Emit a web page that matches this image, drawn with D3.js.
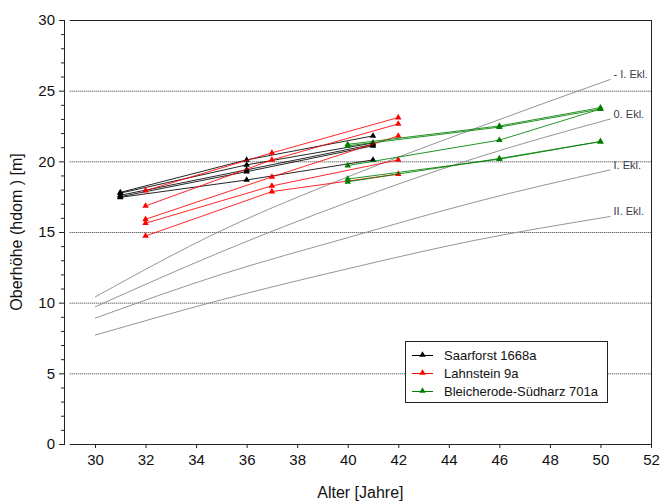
<!DOCTYPE html>
<html>
<head>
<meta charset="utf-8">
<script src="https://cdn.jsdelivr.net/npm/d3@7/dist/d3.min.js"></script>
<style>
  html, body { margin: 0; padding: 0; background: #fff; }
  svg { display: block; font-family: "Liberation Sans", Arial, sans-serif; }
</style>
</head>
<body>
<svg id="chart" width="661" height="503"></svg>
<script>
// Yield-class reference curves (Ertragsklassen): ages and heights
const classAges = [30, 35, 40, 45, 50.4];
const classNames = ["- I. Ekl.", "0. Ekl.", "I. Ekl.", "II. Ekl."];
const classMinusI = [10.4, 15.1, 18.9, 22.3, 25.8];
const classZero   = [9.7, 13.6, 17.1, 20.2, 23.0];
const classI      = [8.9, 12.0, 14.6, 17.1, 19.4];
const classII     = [7.7, 10.2, 12.4, 14.4, 16.1];

// Saarforst 1668a: plots measured at ages 31, 36, 41
const saarAges = [31, 36, 41];
const saarPlots = [
  [17.8, 20.1, 21.8],
  [17.75, 19.75, 21.3],
  [17.6, 19.4, 21.2],
  [17.5, 19.27, 21.1],
  [17.45, 18.68, 20.1]
];

// Lahnstein 9a: plots measured at ages 32, 37, 42
const lahnAges = [32, 37, 42];
const lahnPlots = [
  [17.93, 20.6, 23.1],
  [16.84, 20.1, 22.65],
  [15.9, 18.9, 21.8],
  [15.62, 18.26, 20.1],
  [14.72, 17.86, 19.1]
];

// Bleicherode-Südharz 701a: plots measured at ages 40, 46, 50
const bleiAges = [40, 46, 50];
const bleiPlots = [
  [21.2, 22.5, 23.8],
  [21.1, 22.42, 23.7],
  [19.7, 21.5, 23.7],
  [18.75, 20.15, 21.4],
  [18.55, 20.2, 21.4]
];

const seriesNames = ["Saarforst 1668a", "Lahnstein 9a", "Bleicherode-Südharz 701a"];
const seriesColors = ["#000000", "#ff0000", "#008000"];

const xTicks = [30, 32, 34, 36, 38, 40, 42, 44, 46, 48, 50, 52];
const yTicks = [0, 5, 10, 15, 20, 25, 30];
const gridValues = [5, 10, 15, 20, 25];

const svg = d3.select("#chart");

const x = d3.scaleLinear().domain([30, 52]).range([95, 651]);
const y = d3.scaleLinear().domain([0, 30]).range([444, 20]);
const xMin = 29;
const yAxisX = 64;

// dotted horizontal grid
svg.append("g").selectAll("line").data(gridValues).join("line")
  .attr("x1", x(xMin)).attr("x2", x(52))
  .attr("y1", d => y(d) + 0.5).attr("y2", d => y(d) + 0.5)
  .attr("stroke", "#333").attr("stroke-width", 1)
  .attr("stroke-dasharray", "1,1");

// reference curves (smooth)
const line = d3.line().x(d => x(d[0])).y(d => y(d[1]));
const smooth = d3.line().x(d => x(d[0])).y(d => y(d[1])).curve(d3.curveMonotoneX);
const classCurves = [classMinusI, classZero, classI, classII];
const gCurves = svg.append("g");
classCurves.forEach((vals, i) => {
  const pts = classAges.map((a, j) => [a, vals[j]]);
  gCurves.append("path").attr("d", smooth(pts))
    .attr("fill", "none").attr("stroke", "#959595").attr("stroke-width", 1);
  const end = pts[pts.length - 1];
  gCurves.append("text")
    .attr("x", x(end[0]) + 3).attr("y", y(end[1]) - 1)
    .attr("font-size", 11).attr("fill", "#3a3a4a")
    .text(classNames[i]);
});

// measured plots
const tri = d3.symbol().type(d3.symbolTriangle).size(18);
function drawSeries(ages, plots, color) {
  const g = svg.append("g");
  plots.forEach(vals => {
    const pts = ages.map((a, j) => [a, vals[j]]);
    g.append("path").attr("d", line(pts))
      .attr("fill", "none").attr("stroke", color).attr("stroke-width", 1)
      .attr("stroke-opacity", 0.85);
    g.selectAll(null).data(pts).join("path")
      .attr("d", tri)
      .attr("transform", d => `translate(${x(d[0])},${y(d[1])})`)
      .attr("fill", color);
  });
}
drawSeries(saarAges, saarPlots, seriesColors[0]);
drawSeries(lahnAges, lahnPlots, seriesColors[1]);
drawSeries(bleiAges, bleiPlots, seriesColors[2]);

// frame: top and right edges
svg.append("line").attr("x1", x(xMin)).attr("x2", x(52) + 0.5)
  .attr("y1", y(30) + 0.5).attr("y2", y(30) + 0.5).attr("stroke", "#222");
svg.append("line").attr("x1", x(52) + 0.5).attr("x2", x(52) + 0.5)
  .attr("y1", y(30)).attr("y2", y(0)).attr("stroke", "#222");

// bottom axis
const xAxis = d3.axisBottom(x).tickValues(xTicks).tickSize(4).tickPadding(6)
  .tickFormat(d3.format("d"));
const gx = svg.append("g").attr("transform", `translate(0,${y(0)})`).call(xAxis);
gx.select(".domain").remove();
gx.append("line").attr("x1", x(xMin)).attr("x2", x(52) + 1)
  .attr("y1", 0.5).attr("y2", 0.5).attr("stroke", "#222");
gx.selectAll(".tick line").attr("stroke", "#222");
gx.selectAll(".tick text").attr("font-size", 15).attr("fill", "#111")
  .attr("font-family", "Liberation Sans, Arial, sans-serif");

// left axis with minor ticks
const yMinor = d3.range(0, 31, 1).filter(v => v % 5 !== 0);
const gyMinor = svg.append("g").attr("transform", `translate(${yAxisX},0)`)
  .call(d3.axisLeft(y).tickValues(yMinor).tickSize(3).tickFormat(""));
gyMinor.select(".domain").remove();
const gy = svg.append("g").attr("transform", `translate(${yAxisX},0)`)
  .call(d3.axisLeft(y).tickValues(yTicks).tickSize(5).tickPadding(4)
  .tickFormat(d3.format("d")));
gy.select(".domain").remove();
svg.append("line").attr("x1", yAxisX + 0.5).attr("x2", yAxisX + 0.5)
  .attr("y1", y(30)).attr("y2", y(0) + 1).attr("stroke", "#222");
svg.selectAll(".tick line").attr("stroke", "#222");
gy.selectAll(".tick text").attr("font-size", 15).attr("fill", "#111")
  .attr("font-family", "Liberation Sans, Arial, sans-serif");

// axis titles
svg.append("text").attr("x", (x(xMin) + x(52)) / 2).attr("y", 498)
  .attr("text-anchor", "middle").attr("font-size", 16).attr("fill", "#111")
  .text("Alter [Jahre]");
svg.append("text")
  .attr("transform", `translate(22,${(y(0) + y(30)) / 2}) rotate(-90)`)
  .attr("text-anchor", "middle").attr("font-size", 16).attr("fill", "#111")
  .text("Oberhöhe (hdom ) [m]");

// legend
const lg = svg.append("g").attr("transform", "translate(405,341)");
lg.append("rect").attr("x", 0.5).attr("y", 0.5).attr("width", 202).attr("height", 61)
  .attr("fill", "#fff").attr("stroke", "#222");
seriesNames.forEach((name, i) => {
  const cy = 14 + i * 18;
  lg.append("line").attr("x1", 7).attr("x2", 28).attr("y1", cy + 0.5).attr("y2", cy + 0.5)
    .attr("stroke", seriesColors[i]);
  lg.append("path").attr("d", tri).attr("transform", `translate(17.5,${cy})`)
    .attr("fill", seriesColors[i]);
  lg.append("text").attr("x", 39).attr("y", cy + 5)
    .attr("font-size", 13).attr("fill", "#111").text(name);
});
</script>
</body>
</html>
